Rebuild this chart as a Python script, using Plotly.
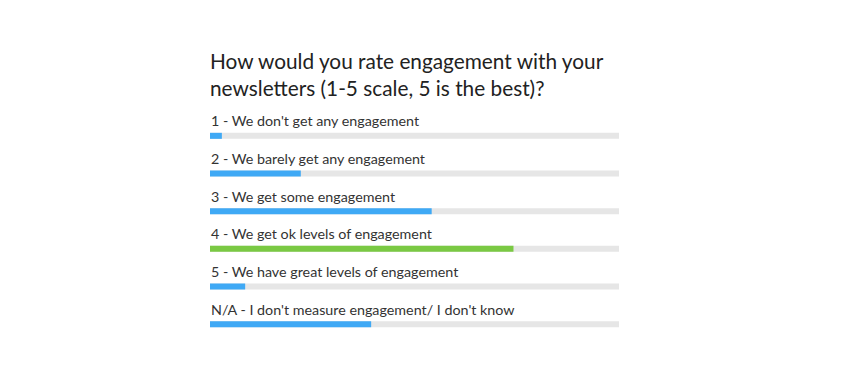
import plotly.graph_objects as go

categories = [
    "1 - We don't get any engagement",
    "2 - We barely get any engagement",
    "3 - We get some engagement",
    "4 - We get ok levels of engagement",
    "5 - We have great levels of engagement",
    "N/A - I don't measure engagement/ I don't know",
]
values = [0.029, 0.222, 0.542, 0.742, 0.086, 0.394]
bar_colors = ["#3FA9F5", "#3FA9F5", "#3FA9F5", "#7AC943", "#3FA9F5", "#3FA9F5"]
title_text = "How would you rate engagement with your<br>newsletters (1-5 scale, 5 is the best)?"

FONT = "Lato, 'Open Sans', sans-serif"
pos = list(range(len(categories)))

fig = go.Figure()
fig.add_trace(go.Bar(
    x=[1] * len(categories), y=pos, orientation="h", width=0.16,
    marker=dict(color="#E6E6E6", line=dict(width=0)), hoverinfo="skip", showlegend=False,
))
fig.add_trace(go.Bar(
    x=values, y=pos, orientation="h", width=0.16,
    marker=dict(color=bar_colors, line=dict(width=0)), showlegend=False,
))

for i, c in enumerate(categories):
    fig.add_annotation(
        x=0, y=i, xref="x", yref="y", text=c, showarrow=False,
        xanchor="left", yanchor="middle", yshift=15, xshift=-1,
        font=dict(family=FONT, size=14.3, color="#333333"),
    )

fig.add_annotation(
    x=0, y=1.189, xref="paper", yref="paper", text=title_text, showarrow=False,
    xanchor="left", yanchor="middle", align="left", xshift=-2,
    font=dict(family=FONT, size=20.8, color="#222222"),
)

fig.update_layout(
    width=860, height=381,
    margin=dict(l=210, r=241, t=117, b=38),
    barmode="overlay",
    plot_bgcolor="white", paper_bgcolor="white",
    xaxis=dict(range=[0, 1], visible=False, fixedrange=True),
    yaxis=dict(range=[5.5, -0.5], visible=False, fixedrange=True),
    font=dict(family=FONT),
)

fig.write_html(
    "out.html",
    config={"displayModeBar": False},
    post_script="document.body.style.margin='0';document.body.style.overflow='hidden';",
)
